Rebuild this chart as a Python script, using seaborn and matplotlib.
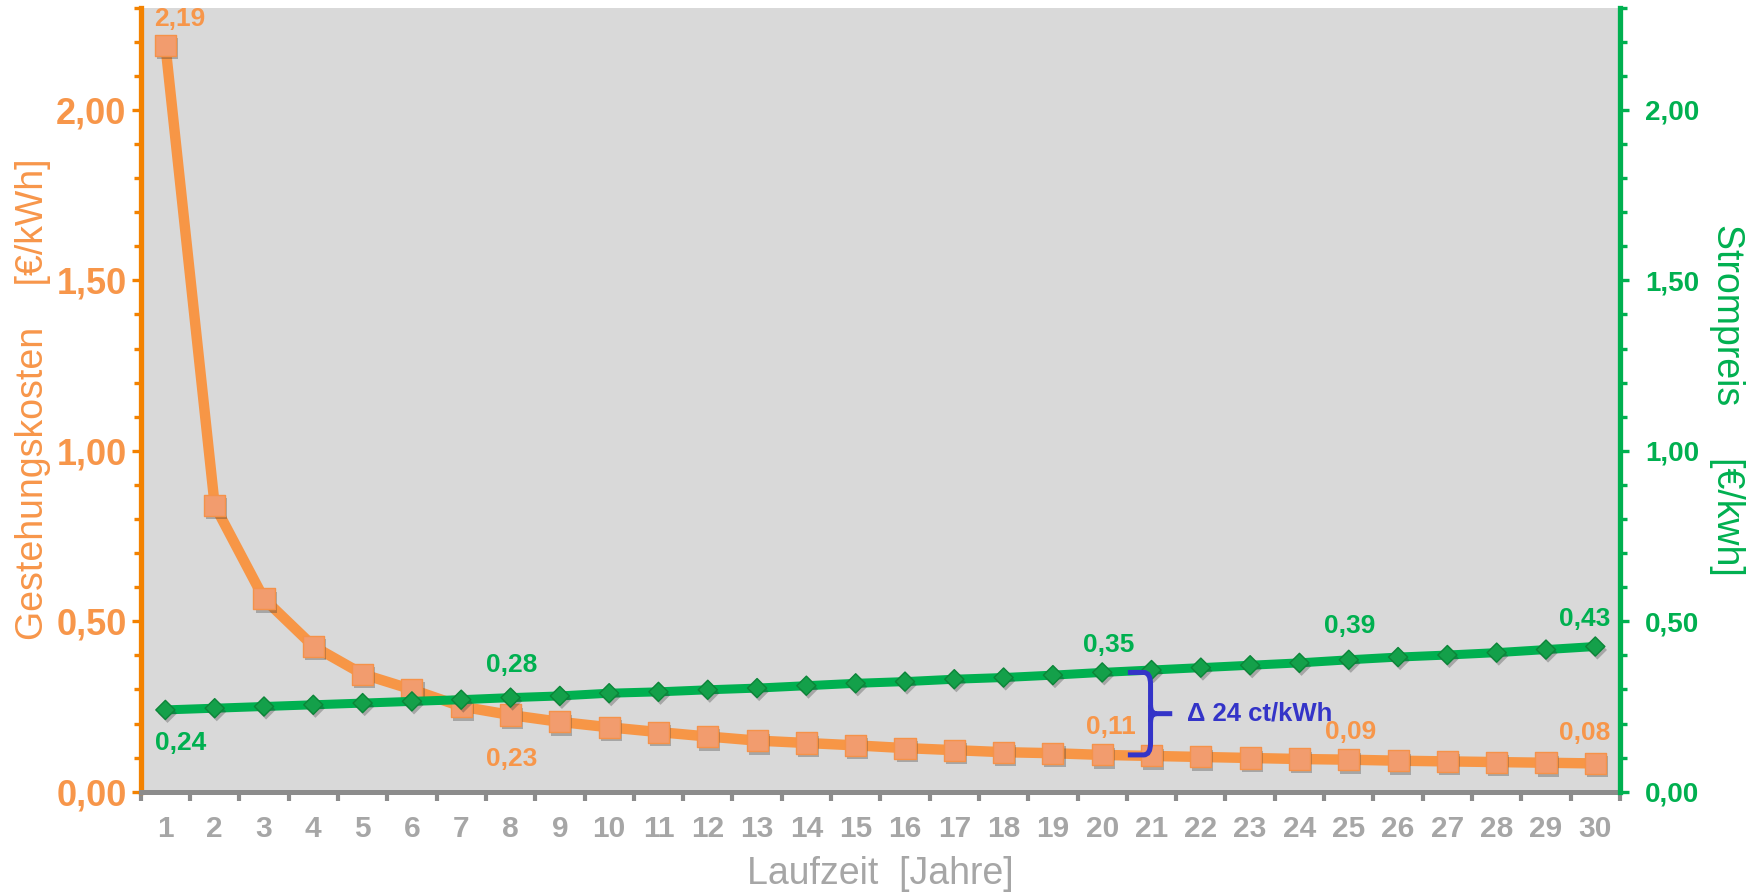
import numpy as np
import pandas as pd
import matplotlib
matplotlib.use("Agg")
import matplotlib.pyplot as plt
import matplotlib.patheffects as pe
from matplotlib.path import Path
from matplotlib.patches import PathPatch
import seaborn as sns

# ---- data -------------------------------------------------------------
years = list(range(1, 31))

# levelised generation cost [€/kWh]
gestehungskosten = [2.19, 0.84, 0.566, 0.427, 0.345, 0.300, 0.250, 0.225, 0.205, 0.189,
                    0.175, 0.162, 0.150, 0.143, 0.136, 0.128, 0.122, 0.116, 0.113, 0.108,
                    0.105, 0.102, 0.099, 0.096, 0.094, 0.091, 0.089, 0.087, 0.085, 0.083]

# electricity price [€/kWh]
strompreis = [0.240, 0.245, 0.250, 0.255, 0.260, 0.265, 0.270, 0.276, 0.281, 0.289,
              0.293, 0.299, 0.304, 0.311, 0.318, 0.323, 0.330, 0.335, 0.342, 0.350,
              0.357, 0.364, 0.371, 0.378, 0.387, 0.395, 0.401, 0.408, 0.417, 0.426]

labelled_years = [1, 8, 20, 25, 30]
delta_year = 20

y_major = [0.0, 0.5, 1.0, 1.5, 2.0]
y_max = 2.3

x_title = "Laufzeit  [Jahre]"
left_title = "Gestehungskosten    [€/kWh]"
right_title = "Strompreis     [€/kwh]"

# ---- styling ----------------------------------------------------------
ORANGE_LINE = "#f79646"
ORANGE_SPINE = "#f38200"
ORANGE_TEXT = "#f7964a"
GREEN = "#00b050"
GRAY_AXIS = "#8c8c8c"
GRAY_TEXT = "#a6a6a6"
BLUE = "#3434c8"

# label offsets in points, per labelled year
cost_offsets = {1: (10, 19), 8: (1, -32), 20: (6, 20), 25: (1, 20), 30: (-8, 22)}
price_offsets = {1: (11, -24), 8: (1, 23.5), 20: (5, 20), 25: (1, 24), 30: (-8, 20)}

sns.set_theme(style="white")
plt.rcParams["font.family"] = ["Liberation Sans", "DejaVu Sans"]
plt.rcParams["axes.unicode_minus"] = False


def de(v):
    return f"{v:.2f}".replace(".", ",")


df = pd.DataFrame({"Jahr": years, "Kosten": gestehungskosten, "Preis": strompreis})

fig = plt.figure(figsize=(17.57, 8.94), dpi=100)
ax = fig.add_axes([0.0801, 0.1144, 0.8419, 0.8770])
ax.set_facecolor("#d9d9d9")
ax2 = ax.twinx()

shadow = [pe.SimplePatchShadow(offset=(1.5, -2.5), shadow_rgbFace="#303030", alpha=0.3), pe.Normal()]

# cost curve
sns.lineplot(data=df, x="Jahr", y="Kosten", ax=ax, color=ORANGE_LINE, linewidth=7.5,
             solid_joinstyle="round", zorder=2)
sns.scatterplot(data=df, x="Jahr", y="Kosten", ax=ax, marker="s", s=230,
                color="#f29c6e", edgecolor="#f5924a", linewidth=1, zorder=3)
ax.collections[-1].set_path_effects(shadow)

# price curve
sns.lineplot(data=df, x="Jahr", y="Preis", ax=ax2, color=GREEN, linewidth=6.5,
             solid_joinstyle="round", zorder=2)
sns.scatterplot(data=df, x="Jahr", y="Preis", ax=ax2, marker="D", s=95,
                color="#14a04a", edgecolor="#0b8538", linewidth=1, zorder=3)
ax2.collections[-1].set_path_effects(shadow)

for a in (ax, ax2):
    a.set_xlim(0.5, 30.5)
    a.set_ylim(0, y_max)
    a.set_xlabel("")
    a.set_ylabel("")

# value labels
for yr in labelled_years:
    v = gestehungskosten[yr - 1]
    ax.annotate(de(v), (yr, v), xytext=cost_offsets[yr], textcoords="offset points",
                ha="center", va="center", fontsize=19, fontweight="bold", color=ORANGE_TEXT,
                zorder=5)
    p = strompreis[yr - 1]
    ax2.annotate(de(p), (yr, p), xytext=price_offsets[yr], textcoords="offset points",
                 ha="center", va="center", fontsize=19, fontweight="bold", color=GREEN,
                 zorder=5)

# brace marking the gap between price and cost
top = strompreis[delta_year - 1]
bot = gestehungskosten[delta_year - 1]
mid = (top + bot) / 2
x0, xv, xt = delta_year + 0.52, delta_year + 0.98, delta_year + 1.42
rx, ry = 0.14, 0.035
verts = [(x0, top), (xv - rx, top), (xv, top), (xv, top - ry),
         (xv, bot + ry), (xv, bot), (xv - rx, bot), (x0, bot)]
codes = [Path.MOVETO, Path.LINETO, Path.CURVE3, Path.CURVE3,
         Path.LINETO, Path.CURVE3, Path.CURVE3, Path.LINETO]
ax2.add_patch(PathPatch(Path(verts, codes), fill=False, edgecolor=BLUE, linewidth=3.6,
                        capstyle="butt", zorder=6))
tip_verts = [(xv, mid + 0.025), (xv, mid), (xv + 0.12, mid), (xt, mid),
             (xv, mid - 0.025), (xv, mid), (xv + 0.12, mid)]
tip_codes = [Path.MOVETO, Path.CURVE3, Path.CURVE3, Path.LINETO,
             Path.MOVETO, Path.CURVE3, Path.CURVE3]
ax2.add_patch(PathPatch(Path(tip_verts, tip_codes), fill=False, edgecolor=BLUE,
                        linewidth=3.6, capstyle="butt", zorder=6))
delta_ct = round((top - bot) * 100)
ax2.text(delta_year + 1.72, mid, f"\u0394 {delta_ct} ct/kWh", ha="left", va="center",
         fontsize=18.5, fontweight="bold", color=BLUE, zorder=6)

# x axis
ax.set_xticks(years, labels=[str(y) for y in years], fontweight="bold")
ax.set_xticks(np.arange(0.5, 31, 1), minor=True)
ax.tick_params(axis="x", which="major", length=0, pad=17, labelsize=21.5, labelcolor=GRAY_TEXT)
ax.tick_params(axis="x", which="minor", length=6.7, width=3, color=GRAY_AXIS, direction="out",
               bottom=True)
ax2.tick_params(axis="x", which="both", bottom=False, top=False, labelbottom=False)

# y axes (same scale on both sides)
y_minor = [round(i * 0.1, 1) for i in range(24)]
ax.set_yticks(y_major, labels=[de(v) for v in y_major], fontweight="bold")
ax.set_yticks(y_minor, minor=True)
ax.tick_params(axis="y", which="major", length=6.2, width=2.4, color=ORANGE_SPINE, pad=4,
               labelsize=26, labelcolor=ORANGE_TEXT, left=True, direction="out")
ax.tick_params(axis="y", which="minor", length=4.8, width=2.4, color=ORANGE_SPINE, left=True,
               direction="out")

ax2.set_yticks(y_major, labels=[de(v) for v in y_major], fontweight="bold")
ax2.set_yticks(y_minor, minor=True)
ax2.tick_params(axis="y", which="major", length=6.2, width=2.4, color=GREEN, pad=12,
                labelsize=20, labelcolor=GREEN, right=True, direction="out")
ax2.tick_params(axis="y", which="minor", length=4.8, width=2.4, color=GREEN, right=True,
                direction="out")

# spines
for s in ("top", "right"):
    ax.spines[s].set_visible(False)
ax.spines["left"].set_color(ORANGE_SPINE)
ax.spines["left"].set_linewidth(3.8)
ax.spines["bottom"].set_color(GRAY_AXIS)
ax.spines["bottom"].set_linewidth(3.6)
for s in ("top", "left", "bottom"):
    ax2.spines[s].set_visible(False)
ax2.spines["right"].set_color(GREEN)
ax2.spines["right"].set_linewidth(3.8)

# axis titles
ax.set_ylabel(left_title, fontsize=27, color=ORANGE_TEXT, va="center")
ax.yaxis.set_label_coords(-0.0728, 0.5)
ax2.set_ylabel(right_title, fontsize=27, color=GREEN, rotation=270, va="center")
ax2.yaxis.set_label_coords(1.0727, 0.5)
ax.set_xlabel(x_title, fontsize=27, color=GRAY_TEXT, va="center")
ax.xaxis.set_label_coords(0.5, -0.105)

fig.savefig("out.png", dpi=100, facecolor="white")
